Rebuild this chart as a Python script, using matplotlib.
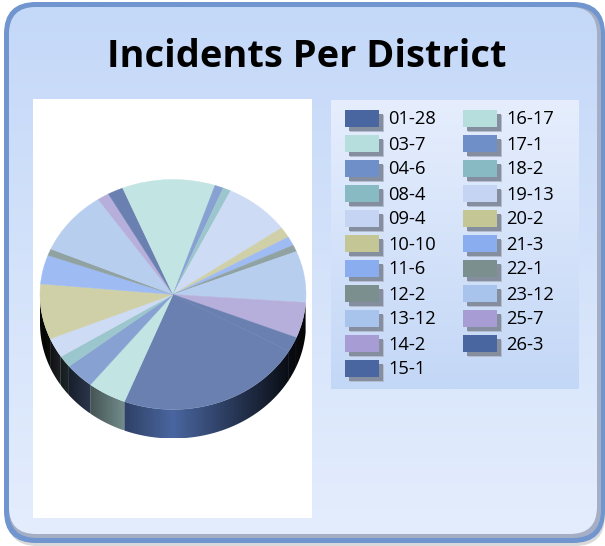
import numpy as np
import matplotlib
matplotlib.use("Agg")
import matplotlib.pyplot as plt
from matplotlib.colors import LinearSegmentedColormap, to_rgb
from matplotlib.patches import FancyBboxPatch, Polygon, Rectangle

# legend labels, in drawing order
labels = ["01-28", "03-7", "04-6", "08-4", "09-4", "10-10", "11-6", "12-2", "13-12", "14-2", "15-1",
          "16-17", "17-1", "18-2", "19-13", "20-2", "21-3", "22-1", "23-12", "25-7", "26-3"]

# slice sizes (degrees of the drawn pie)
slice_sizes = [82, 17, 13, 6, 10, 28, 14.6, 3.4, 32.5, 5.2, 6.8,
               40.7, 3.8, 3.5, 29, 5.4, 4.6, 3.4, 26, 18, 7.5]

# palette repeats every 10 entries
palette = ["#4A66A0", "#B5DEDD", "#6F8FC9", "#88BAC3", "#C4D4F2",
           "#C5C696", "#8AADF0", "#7B8F8F", "#A8C4EC", "#A79DD4"]

title = "Incidents Per District"
W, H = 605, 546
colors = [palette[i % len(palette)] for i in range(len(labels))]


def lighten(c, t=0.17):
    r = np.array(to_rgb(c))
    return tuple(r + (1 - r) * t)


fig = plt.figure(figsize=(W / 100, H / 100), dpi=100, facecolor="white")

# background panel, pixel coordinates
bg = fig.add_axes([0, 0, 1, 1])
bg.set_axis_off()

shadow = FancyBboxPatch((7, 5), 598, 541, boxstyle="round,pad=0,rounding_size=30",
                        fc="#C9CACC", ec="none", alpha=0.7)
bg.add_patch(shadow)
border = FancyBboxPatch((4, 2), 601, 541, boxstyle="round,pad=0,rounding_size=32",
                        fc="#7095CF", ec="none")
bg.add_patch(border)
inner_shade = FancyBboxPatch((9, 7), 592, 531, boxstyle="round,pad=0,rounding_size=28",
                             fc="#A4AEC4", ec="none")
bg.add_patch(inner_shade)
inner = FancyBboxPatch((9, 7), 588, 527, boxstyle="round,pad=0,rounding_size=27",
                       fc="none", ec="none")
bg.add_patch(inner)
panel_cmap = LinearSegmentedColormap.from_list("panel", ["#C4D8F8", "#E4EDFD"])
im = bg.imshow(np.linspace(0, 1, 256).reshape(-1, 1), cmap=panel_cmap, aspect="auto",
               extent=(9, 597, 534, 7), zorder=2)
im.set_clip_path(inner)

# white plot area
bg.add_patch(Rectangle((33, 99), 279, 419, fc="white", ec="none", zorder=3))

# legend box
legend_cmap = LinearSegmentedColormap.from_list("legend", ["#E6EEFD", "#C3D7F6"])
bg.imshow(np.linspace(0, 1, 256).reshape(-1, 1), cmap=legend_cmap, aspect="auto",
          extent=(331, 579, 389, 100), zorder=3)

bg.text(307, 57, title, ha="center", va="center", fontsize=27.4, fontweight="bold",
        family="Open Sans", color="black", zorder=5)

n_rows = 11
for i, (lab, c) in enumerate(zip(labels, colors)):
    col = 0 if i < n_rows else 1
    row = i if i < n_rows else i - n_rows
    x = 345 + col * 118
    y = 110 + row * 25
    bg.add_patch(Rectangle((x + 5, y + 5), 34, 17, fc="#B4BDCF", ec="none", zorder=4))
    bg.add_patch(Rectangle((x + 4, y + 4), 34, 17, fc="#858E9F", ec="none", zorder=4))
    bg.add_patch(Rectangle((x, y), 34, 17, fc=c, ec="none", zorder=5))
    bg.text(x + 43, y + 9.5, lab, ha="left", va="center", fontsize=13.2,
            family="Open Sans", color="black", zorder=5)

bg.set_xlim(0, W)
bg.set_ylim(H, 0)

# pie axes: ellipse squashed by the axes limits
cx, cy, rx, ry, depth = 173, 294.5, 133, 115, 29
ax = fig.add_axes([33 / W, 1 - 518 / H, 279 / W, 419 / H])
start = -29.5

# side wall: one gradient image per slice, clipped to the visible wall
edges = start - np.concatenate([[0], np.cumsum(slice_sizes)])
d = depth / ry
for k, c in enumerate(colors):
    a = np.arange(edges[k + 1], edges[k] + 0.25, 0.25) % 360
    a = a[a >= 180]
    if len(a) < 2:
        # slice may wrap across the left or right end of the pie
        continue
    gaps = np.where(np.diff(a) < 0)[0]
    if len(gaps):
        a = a[gaps[0] + 1:]
    t = np.radians(a)
    x = np.cos(t)
    y = np.sin(t)
    xs = np.linspace(x.min(), x.max(), 200)
    shade = np.clip(1.0 - np.abs(xs), 0.04, 1)
    img = shade[None, :, None] * np.array(to_rgb(c))[None, None, :]
    part = ax.imshow(img, extent=(xs[0], xs[-1], y.min() - d, y.max()), aspect="auto",
                     interpolation="bilinear", zorder=1)
    wall = Polygon(np.column_stack([np.r_[x, x[::-1]], np.r_[y, y[::-1] - d]]),
                   transform=ax.transData, fc="none", ec="none")
    ax.add_patch(wall)
    part.set_clip_path(wall)

wedges, _ = ax.pie(slice_sizes, colors=[lighten(c) for c in colors], startangle=start,
                   counterclock=False, radius=1, wedgeprops={"zorder": 2})
for w in wedges:
    w.set_edgecolor(w.get_facecolor())
    w.set_linewidth(0.3)
ax.set_aspect("auto")
ax.set_xlim((33 - cx) / rx, (312 - cx) / rx)
ax.set_ylim((cy - 518) / ry, (cy - 99) / ry)
ax.patch.set_visible(False)

plt.savefig("out.png", dpi=100)
